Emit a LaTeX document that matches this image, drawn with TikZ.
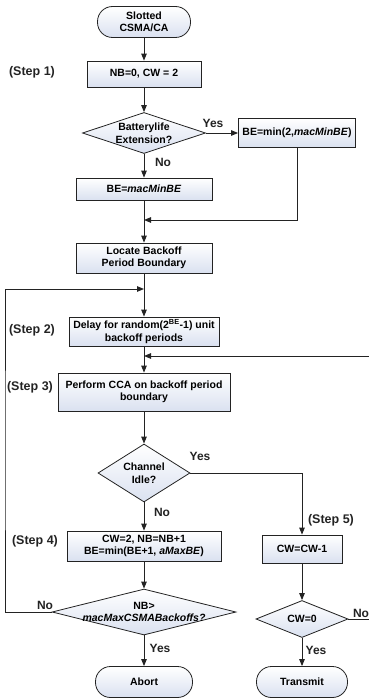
\documentclass[tikz,border=0pt]{standalone}
\usepackage{fontspec}
\setmainfont{Liberation Sans}
\usetikzlibrary{arrows.meta,shapes.geometric}

\definecolor{boxtop}{RGB}{255,255,255}
\definecolor{boxbottom}{RGB}{218,225,240}
\definecolor{linegray}{RGB}{35,35,35}

\newcommand{\boxfont}{\fontsize{10.5}{12.5}\selectfont\bfseries}
\newcommand{\labelfont}{\fontsize{12.5}{14}\selectfont\bfseries}
\newcommand{\stepnode}[3]{\node[steplabel] (#1) at (#2) {#3};}
\newcommand{\ansnode}[3]{\node[answer] (#1) at (#2) {#3};}

\begin{document}
\begin{tikzpicture}[x=1pt,y=-1pt,
    shaded/.style={draw=linegray,line width=0.8pt,top color=boxtop,bottom color=boxbottom},
    process/.style={shaded,rectangle,align=center,inner sep=0pt,font=\boxfont},
    terminal/.style={process,rounded corners=15pt},
    decision/.style={shaded,diamond,inner sep=0pt},
    dtext/.style={align=center,font=\boxfont,inner sep=0pt},
    steplabel/.style={font=\labelfont,text=linegray},
    answer/.style={font=\fontsize{12}{14}\selectfont\bfseries,text=linegray},
    flow/.style={draw=linegray,line width=0.9pt,-{Triangle[length=7pt,width=5.5pt]}}]

  \useasboundingbox (0,0) rectangle (369,698);
  \clip (0,0) rectangle (369,698);

  \node[terminal,minimum width=93pt,minimum height=31pt] (start) at (144,22) {Slotted\\CSMA/CA};
  \node[process,minimum width=114pt,minimum height=26pt] (init) at (144,74) {NB=0, CW = 2};
  \node[decision,minimum width=123pt,minimum height=41pt,
    label={[dtext]center:{Batterylife\\Extension?}}] (battery) at (144,133) {};
  \node[process,minimum width=117pt,minimum height=29pt] (bemin) at (297,133) {BE=min(2,\textit{macMinBE})};
  \node[process,minimum width=136pt,minimum height=22pt] (bemac) at (144,189) {BE=\textit{macMinBE}};
  \node[process,minimum width=136pt,minimum height=30pt] (locate) at (144,258) {Locate Backoff\\Period Boundary};
  \node[process,minimum width=150pt,minimum height=29pt] (delay) at (144,331.5) {Delay for random(2\textsuperscript{BE}-1) unit\\backoff periods};
  \node[process,minimum width=172pt,minimum height=38pt] (cca) at (144,392) {Perform CCA on backoff period\\boundary};
  \node[decision,minimum width=92pt,minimum height=58pt,
    label={[dtext]center:{Channel\\Idle?}}] (idle) at (144,473) {};
  \node[process,minimum width=154pt,minimum height=30pt] (backoff) at (144,546) {CW=2, NB=NB+1\\BE=min(BE+1, \textit{aMaxBE})};
  \node[decision,minimum width=184pt,minimum height=46pt,
    label={[dtext]center:{NB>\\\textit{macMaxCSMABackoffs?}}}] (nbmax) at (144,612) {};
  \node[terminal,minimum width=97pt,minimum height=31pt] (abort) at (144,682) {Abort};
  \node[process,minimum width=80pt,minimum height=28pt] (cwdec) at (302,549) {CW=CW-1};
  \node[decision,minimum width=92pt,minimum height=37pt,
    label={[dtext]center:{CW=0}}] (cwzero) at (302,619) {};
  \node[terminal,minimum width=91pt,minimum height=31pt] (transmit) at (302,682) {Transmit};

  \stepnode{step1}{32,72}{(Step 1)}
  \stepnode{step2}{32,330}{(Step 2)}
  \stepnode{step3}{30,387}{(Step 3)}
  \stepnode{step4}{35,541}{(Step 4)}
  \stepnode{step5}{331,520}{(Step 5)}

  \ansnode{yes1}{213,123}{Yes}
  \ansnode{no1}{163,162}{No}
  \ansnode{yes2}{200,456}{Yes}
  \ansnode{no2}{162,512}{No}
  \ansnode{no3}{45,605}{No}
  \ansnode{yes3}{160,648}{Yes}
  \ansnode{no4}{361,613}{No}
  \ansnode{yes4}{316,650}{Yes}

  \coordinate (join1) at (144,220);
  \coordinate (join2) at (144,289);
  \coordinate (join3) at (144,356);
  \coordinate (leftrail) at (5,450);
  \coordinate (rightrail) at (385,450);

  \draw[flow] (start) -- (init);
  \draw[flow] (init) -- (battery);
  \draw[flow] (battery) -- (bemin);
  \draw[flow] (battery) -- (bemac);
  \draw[flow] (bemin.south) |- (join1);
  \draw[flow] (bemac) -- (locate);
  \draw[flow] (locate) -- (delay);
  \draw[flow] (delay) -- (cca);
  \draw[flow] (cca) -- (idle);
  \draw[flow] (idle) -- (backoff);
  \draw[flow] (idle.east) -| (cwdec.north);
  \draw[flow] (backoff) -- (nbmax);
  \draw[flow] (nbmax) -- (abort);
  \draw[flow] (cwdec) -- (cwzero);
  \draw[flow] (cwzero) -- (transmit);
  \draw[flow] (nbmax.west) -| (leftrail) |- (join2);
  \draw[flow] (cwzero.east) -| (rightrail) |- (join3);

\end{tikzpicture}
\end{document}
